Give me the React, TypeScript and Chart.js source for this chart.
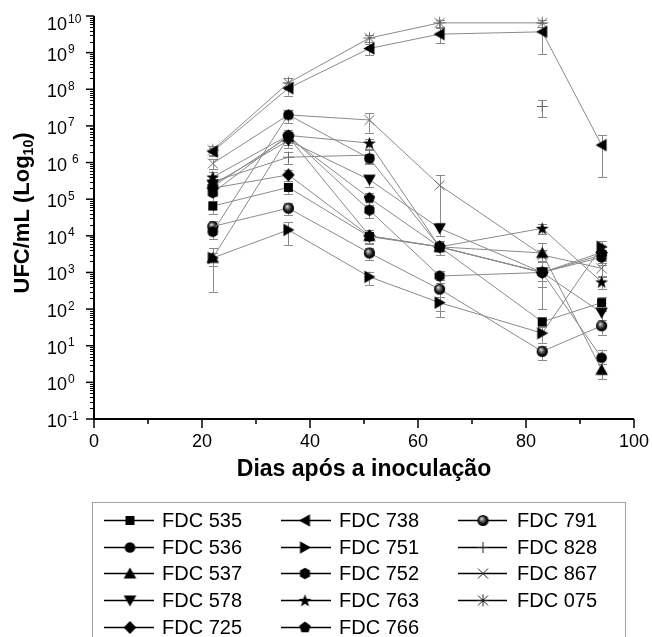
import React, { useEffect, useRef } from "react";
import { Chart, registerables } from "chart.js";
Chart.register(...registerables);

// ---- data ----
const days = [22, 36, 51, 64, 83, 94];
const xTickValues = [0, 20, 40, 60, 80, 100];
const xMinorTickValues = [10, 30, 50, 70, 90];
const yExponents = [-1, 0, 1, 2, 3, 4, 5, 6, 7, 8, 9, 10];

const fdc535 = [6.5e4, 2.1e5, 9.5e3, 5e3, 45, 150];
const fdc536 = [1.3e4, 2e7, 1.3e6, 5e3, 1e3, 4.7];
const fdc537 = [2.5e3, 5e6, 1e4, 5e3, 3.4e3, 2.2];
const fdc578 = [2.5e5, 4e6, 3.4e5, 1.6e4, 1e3, 80];
const fdc725 = [2e5, 4.6e5, 1e4, 5e3, 1e3, 3.5e3];
const fdc738 = [2e6, 1.07e8, 1.3e9, 3.2e9, 3.7e9, 3e6];
const fdc751 = [2.5e3, 1.45e4, 760, 150, 22, 5e3];
const fdc752 = [1.5e5, 5.5e6, 5e4, 800, 1e3, 2.6e3];
const fdc763 = [4e5, 5.5e6, 3.4e6, 5e3, 1.6e4, 550];
const fdc766 = [2.2e5, 5e6, 1.07e5, 5e3, 1e3, 3e3];
const fdc791 = [1.8e4, 5.7e4, 3.4e3, 350, 7, 35];
const fdc828 = [3e5, 1.4e6, 1.6e6, null, 3.4e7, null];
const fdc867 = [9.5e5, 2e7, 1.45e7, 2.4e5, 3e3, 1.3e3];
const fdc075 = [2.2e6, 1.5e8, 2.5e9, 6.5e9, 6.5e9, null];

// standard deviations (linear)
const sd535 = [2.5e4, 7e4, 3e3, 2e3, 10, 60];
const sd536 = [5e3, 8e6, 4e5, 2e3, 900, 3];
const sd537 = [2.2e3, 2e6, 4e3, 2e3, 3e3, 1];
const sd578 = [1e5, 1.5e6, 1.2e5, 6e3, 400, 30];
const sd725 = [8e4, 1.5e5, 4e3, 2e3, 400, 1.5e3];
const sd738 = [5e5, 4e7, 4.5e8, 1.4e9, 2.8e9, 2.6e6];
const sd751 = [1e3, 9e3, 300, 60, 10, 2e3];
const sd752 = [6e4, 2e6, 2e4, 300, 400, 1e3];
const sd763 = [1.5e5, 2e6, 1e6, 2e3, 5e3, 200];
const sd766 = [8e4, 2e6, 4e4, 2e3, 400, 1e3];
const sd791 = [7e3, 2e4, 1.2e3, 290, 3, 15];
const sd828 = [1e5, 5e5, 6e5, null, 1.7e7, null];
const sd867 = [3e5, 8e6, 8e6, 2.2e5, 1e3, 500];
const sd075 = [6e5, 5e7, 5e8, 1.5e9, 1.5e9, null];

const seriesLabels = ["FDC 535", "FDC 536", "FDC 537", "FDC 578", "FDC 725", "FDC 738", "FDC 751", "FDC 752", "FDC 763", "FDC 766", "FDC 791", "FDC 828", "FDC 867", "FDC 075"];
const seriesValues = [fdc535, fdc536, fdc537, fdc578, fdc725, fdc738, fdc751, fdc752, fdc763, fdc766, fdc791, fdc828, fdc867, fdc075];
const seriesSd = [sd535, sd536, sd537, sd578, sd725, sd738, sd751, sd752, sd763, sd766, sd791, sd828, sd867, sd075];
const seriesMarkers = ["square", "circle", "triUp", "triDown", "diamond", "triLeft", "triRight", "hexagon", "star", "pentagon", "sphere", "plus", "x", "asterisk"];

const xTitle = "Dias após a inoculação";
const FONT = "'Liberation Sans', Arial, sans-serif";

function makeMarker(kind: string, thinColor: string): HTMLCanvasElement {
  const S = 15;
  const c = S / 2;
  const cv = document.createElement("canvas");
  cv.width = S;
  cv.height = S;
  const g = cv.getContext("2d")!;
  g.fillStyle = "#000";
  g.strokeStyle = thinColor;
  g.lineWidth = 1;
  const poly = (pts: number[][]) => {
    g.beginPath();
    pts.forEach(([x, y], i) => (i ? g.lineTo(x, y) : g.moveTo(x, y)));
    g.closePath();
    g.fill();
  };
  const reg = (n: number, r: number, rot: number) => {
    const pts: number[][] = [];
    for (let k = 0; k < n; k++) {
      const a = rot + (k * 2 * Math.PI) / n;
      pts.push([c + r * Math.cos(a), c + r * Math.sin(a)]);
    }
    poly(pts);
  };
  switch (kind) {
    case "square":
      g.fillRect(3, 3, 9, 9);
      break;
    case "circle":
      g.beginPath();
      g.arc(c, c, 5.3, 0, Math.PI * 2);
      g.fill();
      break;
    case "triUp":
      poly([[c, 1.5], [13.8, 12.5], [1.2, 12.5]]);
      break;
    case "triDown":
      poly([[1.2, 2.5], [13.8, 2.5], [c, 13.5]]);
      break;
    case "triLeft":
      poly([[1.5, c], [12.5, 1.2], [12.5, 13.8]]);
      break;
    case "triRight":
      poly([[13.5, c], [2.5, 1.2], [2.5, 13.8]]);
      break;
    case "diamond":
      poly([[c, 1], [13.8, c], [c, 14], [1.2, c]]);
      break;
    case "hexagon":
      reg(6, 5.8, -Math.PI / 2);
      break;
    case "pentagon":
      reg(5, 6, -Math.PI / 2);
      break;
    case "star": {
      const pts: number[][] = [];
      for (let k = 0; k < 10; k++) {
        const r = k % 2 === 0 ? 6.8 : 2.8;
        const a = -Math.PI / 2 + (k * Math.PI) / 5;
        pts.push([c + r * Math.cos(a), c + 0.5 + r * Math.sin(a)]);
      }
      poly(pts);
      break;
    }
    case "sphere": {
      const gr = g.createRadialGradient(c - 1.5, c - 2, 0.3, c, c, 5.6);
      gr.addColorStop(0, "#e0e0e0");
      gr.addColorStop(0.3, "#777");
      gr.addColorStop(0.7, "#111");
      gr.addColorStop(1, "#000");
      g.fillStyle = gr;
      g.beginPath();
      g.arc(c, c, 5.6, 0, Math.PI * 2);
      g.fill();
      break;
    }
    case "plus":
      g.beginPath();
      g.moveTo(c, 2);
      g.lineTo(c, 13);
      g.moveTo(2, c);
      g.lineTo(13, c);
      g.stroke();
      break;
    case "x":
      g.beginPath();
      g.moveTo(2.5, 2.5);
      g.lineTo(12.5, 12.5);
      g.moveTo(12.5, 2.5);
      g.lineTo(2.5, 12.5);
      g.stroke();
      break;
    case "asterisk":
      g.beginPath();
      g.moveTo(2.5, 2.5);
      g.lineTo(12.5, 12.5);
      g.moveTo(12.5, 2.5);
      g.lineTo(2.5, 12.5);
      g.moveTo(c, 1.5);
      g.lineTo(c, 13.5);
      g.moveTo(1.5, c);
      g.lineTo(13.5, c);
      g.stroke();
      break;
  }
  return cv;
}

export default function App() {
  const ref = useRef<HTMLCanvasElement | null>(null);

  useEffect(() => {
    document.body.style.margin = "0";
    const canvas = ref.current!;
    const plotMarkers = seriesMarkers.map((m) => makeMarker(m, "#666"));
    const legendMarkers = seriesMarkers.map((m) => makeMarker(m, "#222"));

    const datasets = seriesLabels.map((label, i) => ({
      label,
      data: days.map((d, j) => ({ x: d, y: seriesValues[i][j] })),
      borderColor: "#8a8a8a",
      borderWidth: 1,
      pointStyle: plotMarkers[i] as any,
      pointRadius: 5,
      spanGaps: false,
      fill: false,
      tension: 0,
    }));

    const customPlugin = {
      id: "customDraw",
      beforeDatasetsDraw(chart: any) {
        const ctx = chart.ctx;
        const xs = chart.scales.x;
        const ys = chart.scales.y;
        const area = chart.chartArea;
        ctx.save();
        ctx.strokeStyle = "#8a8a8a";
        ctx.lineWidth = 1;
        seriesValues.forEach((vals, i) => {
          vals.forEach((v, j) => {
            const s = seriesSd[i][j];
            if (v == null || s == null) return;
            const x = Math.round(xs.getPixelForValue(days[j])) + 0.5;
            const yT = ys.getPixelForValue(v + s);
            const lo = v - s;
            const yB = lo > 0 ? Math.min(ys.getPixelForValue(lo), area.bottom) : area.bottom;
            ctx.beginPath();
            ctx.moveTo(x, yT);
            ctx.lineTo(x, yB);
            ctx.moveTo(x - 4.5, Math.round(yT) + 0.5);
            ctx.lineTo(x + 4.5, Math.round(yT) + 0.5);
            if (lo > 0) {
              ctx.moveTo(x - 4.5, Math.round(yB) + 0.5);
              ctx.lineTo(x + 4.5, Math.round(yB) + 0.5);
            }
            ctx.stroke();
          });
        });
        ctx.restore();
      },
      afterDraw(chart: any) {
        const ctx = chart.ctx;
        const xs = chart.scales.x;
        const ys = chart.scales.y;
        const area = chart.chartArea;
        const L = area.left;
        const B = area.bottom;
        ctx.save();
        // axes lines
        ctx.strokeStyle = "#000";
        ctx.lineWidth = 2;
        ctx.beginPath();
        ctx.moveTo(L, area.top);
        ctx.lineTo(L, B + 1);
        ctx.moveTo(L - 1, B);
        ctx.lineTo(area.right, B);
        ctx.stroke();
        // y ticks
        ctx.lineWidth = 1.5;
        yExponents.forEach((e) => {
          const y = ys.getPixelForValue(Math.pow(10, e));
          ctx.beginPath();
          ctx.moveTo(L - 8, y);
          ctx.lineTo(L, y);
          ctx.stroke();
        });
        ctx.lineWidth = 1;
        yExponents.forEach((e) => {
          if (e >= 10) return;
          for (let m = 2; m <= 9; m++) {
            const y = Math.round(ys.getPixelForValue(m * Math.pow(10, e))) + 0.5;
            ctx.beginPath();
            ctx.moveTo(L - 4, y);
            ctx.lineTo(L, y);
            ctx.stroke();
          }
        });
        // x ticks
        ctx.lineWidth = 1.5;
        xTickValues.forEach((v) => {
          const x = xs.getPixelForValue(v);
          ctx.beginPath();
          ctx.moveTo(x, B);
          ctx.lineTo(x, B + 9);
          ctx.stroke();
        });
        xMinorTickValues.forEach((v) => {
          const x = xs.getPixelForValue(v);
          ctx.beginPath();
          ctx.moveTo(x, B);
          ctx.lineTo(x, B + 5);
          ctx.stroke();
        });
        // y tick labels
        ctx.fillStyle = "#000";
        ctx.textBaseline = "alphabetic";
        yExponents.forEach((e, idx) => {
          const y = ys.getPixelForValue(Math.pow(10, e));
          const base = idx === yExponents.length - 1 ? y + 14 : y + 8;
          ctx.font = `18px ${FONT}`;
          ctx.textAlign = "left";
          ctx.fillText("10", 47, base);
          const w = ctx.measureText("10").width;
          ctx.font = `12px ${FONT}`;
          const exp = e < 0 ? "-" + Math.abs(e) : String(e);
          ctx.fillText(exp, 47 + w + (e === 6 ? 5 : 1), base - 7.5);
        });
        // x tick labels
        ctx.font = `18px ${FONT}`;
        ctx.textAlign = "center";
        xTickValues.forEach((v) => {
          ctx.fillText(String(v), xs.getPixelForValue(v), 447);
        });
        // x title
        ctx.font = `bold 23px ${FONT}`;
        ctx.fillText(xTitle, (area.left + area.right) / 2, 476);
        // y title (rotated)
        ctx.save();
        ctx.translate(29, 213);
        ctx.rotate(-Math.PI / 2);
        const p1 = "UFC/mL (Log";
        const p2 = "10";
        const p3 = ")";
        ctx.font = `bold 22px ${FONT}`;
        const w1 = ctx.measureText(p1).width;
        const w3 = ctx.measureText(p3).width;
        ctx.font = `bold 14px ${FONT}`;
        const w2 = ctx.measureText(p2).width;
        const total = w1 + w2 + w3;
        let cx = -total / 2;
        ctx.textAlign = "left";
        ctx.font = `bold 22px ${FONT}`;
        ctx.fillText(p1, cx, 0);
        cx += w1;
        ctx.font = `bold 14px ${FONT}`;
        ctx.fillText(p2, cx, 4);
        cx += w2;
        ctx.font = `bold 22px ${FONT}`;
        ctx.fillText(p3, cx, 0);
        ctx.restore();

        // legend
        ctx.strokeStyle = "#a0a0a0";
        ctx.lineWidth = 1;
        ctx.strokeRect(92.5, 502.5, 533, 140);
        const colLine = [[104, 154], [281, 331], [458, 507]];
        const colMarker = [130, 305, 483];
        const colText = [162, 339, 517];
        const rowY = [520, 547, 573, 600, 627];
        const legendCols = [[0, 1, 2, 3, 4], [5, 6, 7, 8, 9], [10, 11, 12, 13]];
        ctx.font = `20px ${FONT}`;
        ctx.textAlign = "left";
        legendCols.forEach((col, ci) => {
          col.forEach((si, ri) => {
            const y = rowY[ri];
            ctx.strokeStyle = "#000";
            ctx.lineWidth = 1.3;
            ctx.beginPath();
            ctx.moveTo(colLine[ci][0], y + 0.5);
            ctx.lineTo(colLine[ci][1], y + 0.5);
            ctx.stroke();
            const mk = legendMarkers[si];
            ctx.drawImage(mk, colMarker[ci] - mk.width / 2, y + 0.5 - mk.height / 2);
            ctx.fillStyle = "#000";
            ctx.fillText(seriesLabels[si], colText[ci], y + 7);
          });
        });
        ctx.restore();
      },
    };

    const chart = new Chart(canvas, {
      type: "line",
      data: { datasets: datasets as any },
      options: {
        responsive: false,
        animation: false,
        layout: { padding: { left: 94, right: 18, top: 16, bottom: 218 } },
        scales: {
          x: { type: "linear", min: 0, max: 100, display: false },
          y: { type: "logarithmic", min: 0.1, max: 1e10, display: false },
        },
        plugins: { legend: { display: false }, tooltip: { enabled: false } },
      },
      plugins: [customPlugin as any],
    });
    return () => chart.destroy();
  }, []);

  return (
    <div style={{ position: "fixed", left: 0, top: 0, width: 652, height: 637, background: "#fff" }}>
      <canvas ref={ref} width={652} height={637} style={{ width: 652, height: 637, display: "block" }} />
    </div>
  );
}
